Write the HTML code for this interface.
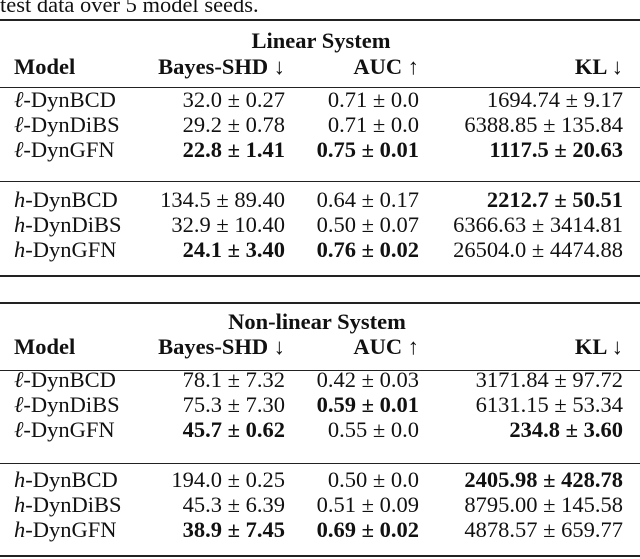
<!DOCTYPE html>
<html><head><meta charset="utf-8"><style>
html,body{margin:0;padding:0;background:#fff}
#t{position:relative;width:640px;height:559px;overflow:hidden;font-family:"Liberation Serif",serif;font-size:22.5px;color:#111}
.c{position:absolute;line-height:26px;white-space:nowrap}
.b{font-weight:bold}
.r{position:absolute;left:0;width:640px;background:#222}
</style></head><body>
<div id="t"></div>
<script>
const t=document.getElementById('t');
const sections=[
 {title:'Linear System',tc:321,top:20,hdr:87,mid:181,bot:276,ty:41,hy:67,rows:[100,125,150,200,225,250],
  data:[['ℓ-DynBCD','32.0 ± 0.27','0.71 ± 0.0','1694.74 ± 9.17',[]],
        ['ℓ-DynDiBS','29.2 ± 0.78','0.71 ± 0.0','6388.85 ± 135.84',[]],
        ['ℓ-DynGFN','22.8 ± 1.41','0.75 ± 0.01','1117.5 ± 20.63',[1,2,3]],
        ['h-DynBCD','134.5 ± 89.40','0.64 ± 0.17','2212.7 ± 50.51',[3]],
        ['h-DynDiBS','32.9 ± 10.40','0.50 ± 0.07','6366.63 ± 3414.81',[]],
        ['h-DynGFN','24.1 ± 3.40','0.76 ± 0.02','26504.0 ± 4474.88',[1,2]]]},
 {title:'Non-linear System',tc:317,top:303,hdr:370,mid:463,bot:556,ty:322,hy:347,rows:[380,405,430,480,505,530],
  data:[['ℓ-DynBCD','78.1 ± 7.32','0.42 ± 0.03','3171.84 ± 97.72',[]],
        ['ℓ-DynDiBS','75.3 ± 7.30','0.59 ± 0.01','6131.15 ± 53.34',[2]],
        ['ℓ-DynGFN','45.7 ± 0.62','0.55 ± 0.0','234.8 ± 3.60',[1,3]],
        ['h-DynBCD','194.0 ± 0.25','0.50 ± 0.0','2405.98 ± 428.78',[3]],
        ['h-DynDiBS','45.3 ± 6.39','0.51 ± 0.09','8795.00 ± 145.58',[]],
        ['h-DynGFN','38.9 ± 7.45','0.69 ± 0.02','4878.57 ± 659.77',[1,2]]]}
];
const rights=[null,285,419,623];
function txt(html,name,y,opts){
 const d=document.createElement('div');
 d.className='c'+(opts.bold?' b':'');
 d.innerHTML=html;
 d.style.top=(y-13)+'px';
 if(opts.left!=null)d.style.left=opts.left+'px';
 if(opts.right!=null)d.style.right=(640-opts.right)+'px';
 if(opts.center!=null){d.style.left=opts.center+'px';d.style.transform='translateX(-50%)';}
 
 
 t.appendChild(d);return d;
}
function rule(y,h,name){
 const d=document.createElement('div');d.className='r';
 d.style.top=(y-Math.floor(h/2))+'px';d.style.height=h+'px';
 
 
 t.appendChild(d);
}
txt('test data over 5 model seeds.','caption',5,{left:0});
sections.forEach((s,si)=>{
 const p=si?'nonlinear-':'linear-';
 rule(s.top,2,p+'top-rule');rule(s.hdr,1,p+'header-rule');rule(s.mid,1,p+'mid-rule');rule(s.bot,2,p+'bottom-rule');
 txt(s.title,p+'section-title',s.ty,{center:s.tc,bold:true});
 txt('Model',p+'model-header',s.hy,{left:14,bold:true});
 txt('Bayes-SHD ↓',p+'bayes-shd-header',s.hy,{right:rights[1],bold:true});
 txt('AUC ↑',p+'auc-header',s.hy,{right:rights[2],bold:true});
 txt('KL ↓',p+'kl-header',s.hy,{right:rights[3],bold:true});
 s.data.forEach((r,i)=>{
  const y=s.rows[i];
  const nm=r[0].replace(/^([ℓh])-/,(m,a)=>'<i>'+a+'</i>-');
  txt(nm,p+'model-name',y,{left:14});
  for(let k=1;k<=3;k++){
   txt(r[k],p+['','bayes-shd','auc','kl'][k]+'-cell',y,{right:rights[k],bold:r[4].includes(k)});
  }
 });
});
</script>
</body></html>
